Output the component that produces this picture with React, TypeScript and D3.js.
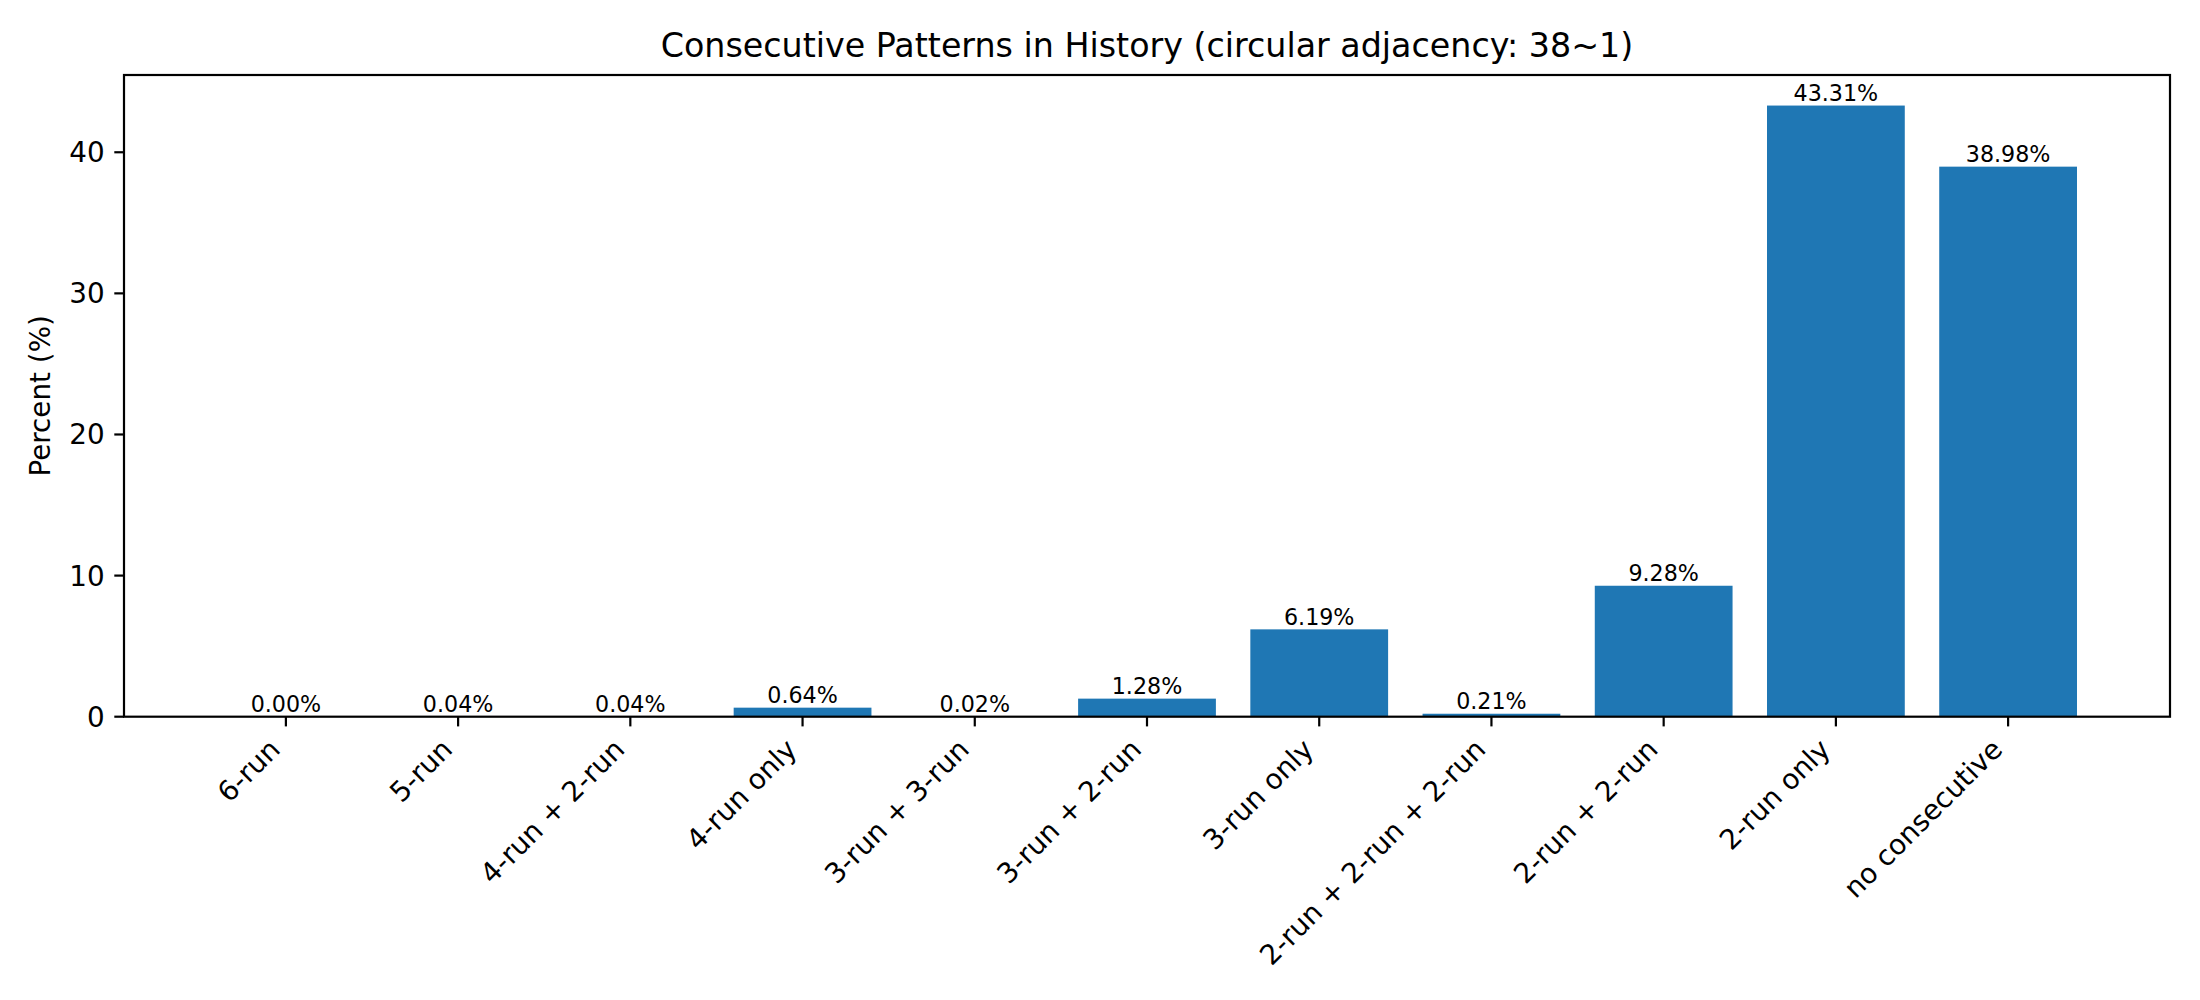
import { useEffect, useRef } from "react";
import * as d3 from "d3";

const categories = [
  "6-run",
  "5-run",
  "4-run + 2-run",
  "4-run only",
  "3-run + 3-run",
  "3-run + 2-run",
  "3-run only",
  "2-run + 2-run + 2-run",
  "2-run + 2-run",
  "2-run only",
  "no consecutive",
];
const percents = [0.0, 0.04, 0.04, 0.64, 0.02, 1.28, 6.19, 0.21, 9.28, 43.31, 38.98];
const yTicks = [0, 10, 20, 30, 40];

const W = 2200;
const H = 1000;
const FONT = "DejaVu Sans, sans-serif";

const App = () => {
  const chart = useRef<SVGSVGElement>(null);

  useEffect(() => {
    const left = 124;
    const right = 2170;
    const top = 75;
    const bottom = 716.7;

    const svg = d3.select(chart.current);
    svg.selectAll("*").remove();

    // matplotlib-like limits: bars at integer positions, width 0.8, 5% margins
    const n = categories.length;
    const xMin = -0.4 - 0.05 * (n - 1 + 0.8);
    const xMax = n - 1 + 0.4 + 0.05 * (n - 1 + 0.8);
    const x = d3.scaleLinear().domain([xMin, xMax]).range([left, right]);
    const yMax = (d3.max(percents) as number) * 1.05;
    const y = d3.scaleLinear().domain([0, yMax]).range([bottom, top]);

    svg.append("rect").attr("width", W).attr("height", H).attr("fill", "white");

    // bars
    svg
      .append("g")
      .selectAll("rect")
      .data(percents)
      .join("rect")
      .attr("x", (d, i) => x(i - 0.4))
      .attr("width", x(0.8) - x(0))
      .attr("y", (d) => y(d))
      .attr("height", (d) => y(0) - y(d))
      .attr("fill", "#1f77b4");

    // bar labels
    svg
      .append("g")
      .selectAll("text")
      .data(percents)
      .join("text")
      .attr("x", (d, i) => x(i))
      .attr("y", (d) => y(d) - 4.6)
      .attr("text-anchor", "middle")
      .attr("font-family", FONT)
      .attr("font-size", 22.2)
      .attr("fill", "black")
      .text((d) => d.toFixed(2) + "%");

    // spines
    svg
      .append("rect")
      .attr("x", left)
      .attr("y", top)
      .attr("width", right - left)
      .attr("height", bottom - top)
      .attr("fill", "none")
      .attr("stroke", "black")
      .attr("stroke-width", 2.2);

    // y ticks
    const yg = svg.append("g");
    yg.selectAll("line")
      .data(yTicks)
      .join("line")
      .attr("x1", left - 9.7)
      .attr("x2", left)
      .attr("y1", (d) => y(d))
      .attr("y2", (d) => y(d))
      .attr("stroke", "black")
      .attr("stroke-width", 2.2);
    yg.selectAll("text")
      .data(yTicks)
      .join("text")
      .attr("x", left - 19.4)
      .attr("y", (d) => y(d))
      .attr("dy", "0.36em")
      .attr("text-anchor", "end")
      .attr("font-family", FONT)
      .attr("font-size", 27.8)
      .text((d) => String(d));

    // x ticks
    const xg = svg.append("g");
    xg.selectAll("line")
      .data(categories)
      .join("line")
      .attr("x1", (d, i) => x(i))
      .attr("x2", (d, i) => x(i))
      .attr("y1", bottom)
      .attr("y2", bottom + 9.7)
      .attr("stroke", "black")
      .attr("stroke-width", 2.2);
    const fs = 27.8;
    const asc = 0.76 * fs;
    const desc = 0.21 * fs;
    const padY = bottom + 19.4;
    xg.selectAll("text")
      .data(categories)
      .join("text")
      .attr("transform", (d, i) => {
        const ax = x(i) - desc / Math.SQRT2;
        const ay = padY + asc / Math.SQRT2;
        return `translate(${ax},${ay}) rotate(-45)`;
      })
      .attr("text-anchor", "end")
      .attr("font-family", FONT)
      .attr("font-size", fs)
      .text((d) => d);

    // y label
    svg
      .append("text")
      .attr("transform", `translate(50,${(top + bottom) / 2}) rotate(-90)`)
      .attr("text-anchor", "middle")
      .attr("font-family", FONT)
      .attr("font-size", 27.8)
      .text("Percent (%)");

    // title
    svg
      .append("text")
      .attr("x", (left + right) / 2)
      .attr("y", top - 16.7 - 0.21 * 33.3 + 6)
      .attr("text-anchor", "middle")
      .attr("font-family", FONT)
      .attr("font-size", 33.3)
      .text("Consecutive Patterns in History (circular adjacency: 38~1)");
  });

  return (
    <div>
      <svg
        ref={chart}
        width={W}
        height={H}
        style={{ position: "absolute", left: 0, top: 0 }}
      ></svg>
    </div>
  );
};

export default App;
